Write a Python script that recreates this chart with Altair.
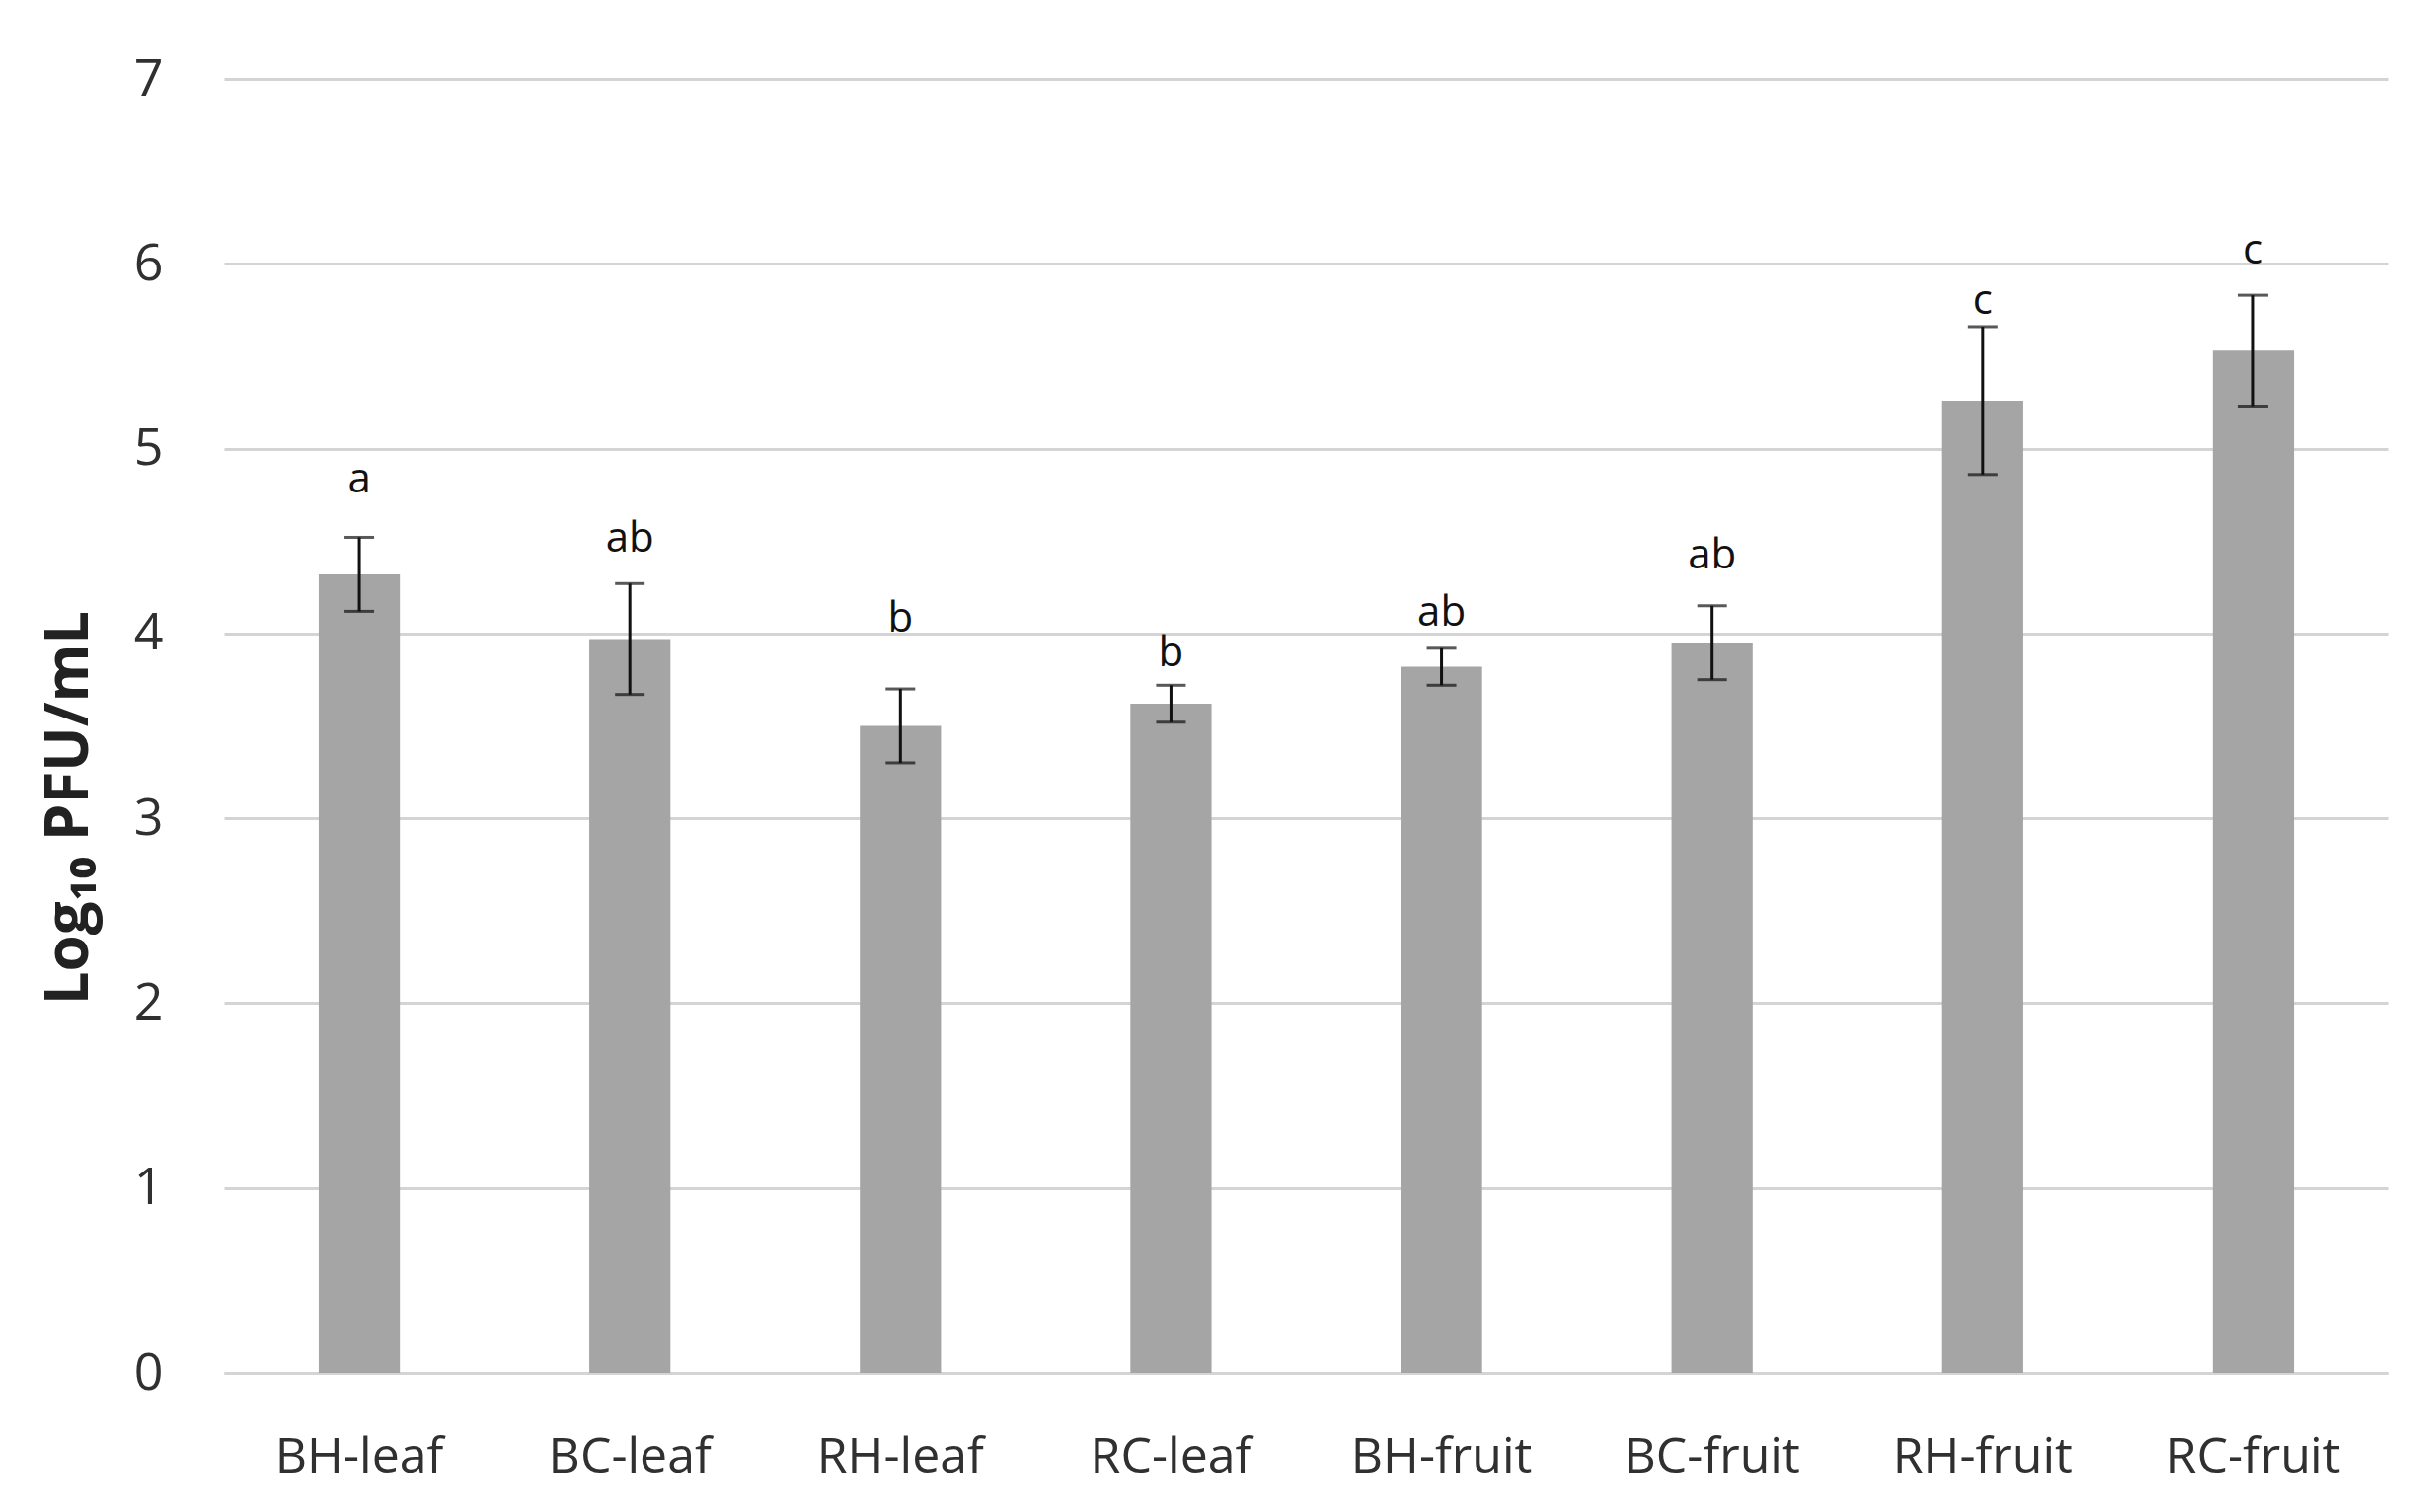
import altair as alt
import pandas as pd

categories = ["BH-leaf", "BC-leaf", "RH-leaf", "RC-leaf", "BH-fruit", "BC-fruit", "RH-fruit", "RC-fruit"]
means = [4.32, 3.97, 3.50, 3.62, 3.82, 3.95, 5.26, 5.53]
errors = [0.20, 0.30, 0.20, 0.10, 0.10, 0.20, 0.40, 0.30]
letters = ["a", "ab", "b", "b", "ab", "ab", "c", "c"]
letter_y = [4.83, 4.51, 4.08, 3.89, 4.11, 4.42, 5.80, 6.07]
y_ticks = [0, 1, 2, 3, 4, 5, 6, 7]

df = pd.DataFrame({
    "cat": categories,
    "mean": means,
    "lo": [m - e for m, e in zip(means, errors)],
    "hi": [m + e for m, e in zip(means, errors)],
    "letter": letters,
    "ly": letter_y,
})

FONT = "Open Sans"
TXT = "#303030"

x_enc = alt.X(
    "cat:N",
    sort=categories,
    scale=alt.Scale(paddingInner=0.7, paddingOuter=0.35),
    axis=alt.Axis(
        title=None, labelAngle=0, labelFont=FONT, labelFontSize=50, labelColor=TXT,
        labelPadding=60, labelLimit=0, ticks=False, domain=True, domainColor="#d4d4d4",
        domainWidth=3, grid=False,
    ),
)
y_scale = alt.Scale(domain=[0, 7], nice=False, zero=True)
y_axis = alt.Axis(
    title="Log₁₀ PFU/mL", values=y_ticks, format="d",
    labelFont=FONT, labelFontSize=52, labelColor=TXT, labelPadding=62,
    ticks=False, domain=False, grid=True, gridColor="#d4d4d4", gridWidth=3,
    titleFont=FONT, titleFontSize=60, titleFontWeight="bold", titleColor="#222222",
    titleAngle=270, titleAlign="center", titleBaseline="middle",
    titleX=-157, titleY=738,
)

base = alt.Chart(df)

bars = base.mark_bar(color="#a5a5a5").encode(
    x=x_enc,
    y=alt.Y("mean:Q", scale=y_scale, axis=y_axis),
)

err = base.mark_rule(color="#111111", strokeWidth=3).encode(
    x=alt.X("cat:N", sort=categories),
    y=alt.Y("lo:Q", scale=y_scale),
    y2="hi:Q",
)
cap_lo = base.mark_tick(color="#111111", thickness=3, size=30).encode(
    x=alt.X("cat:N", sort=categories),
    y=alt.Y("lo:Q", scale=y_scale),
)
cap_hi = base.mark_tick(color="#111111", thickness=3, size=30).encode(
    x=alt.X("cat:N", sort=categories),
    y=alt.Y("hi:Q", scale=y_scale),
)
labels = base.mark_text(font=FONT, fontSize=42, color="#111111", baseline="middle").encode(
    x=alt.X("cat:N", sort=categories),
    y=alt.Y("ly:Q", scale=y_scale),
    text="letter:N",
)

chart = (
    alt.layer(bars, err, cap_lo, cap_hi, labels)
    .properties(
        width=2193, height=1311,
        padding={"left": 219, "top": 72, "right": 20, "bottom": 138},
        autosize=alt.AutoSizeParams(type="none"),
        background="white",
    )
    .configure_view(stroke=None)
)

chart.save("out.html", embed_options={"renderer": "svg", "actions": False})
